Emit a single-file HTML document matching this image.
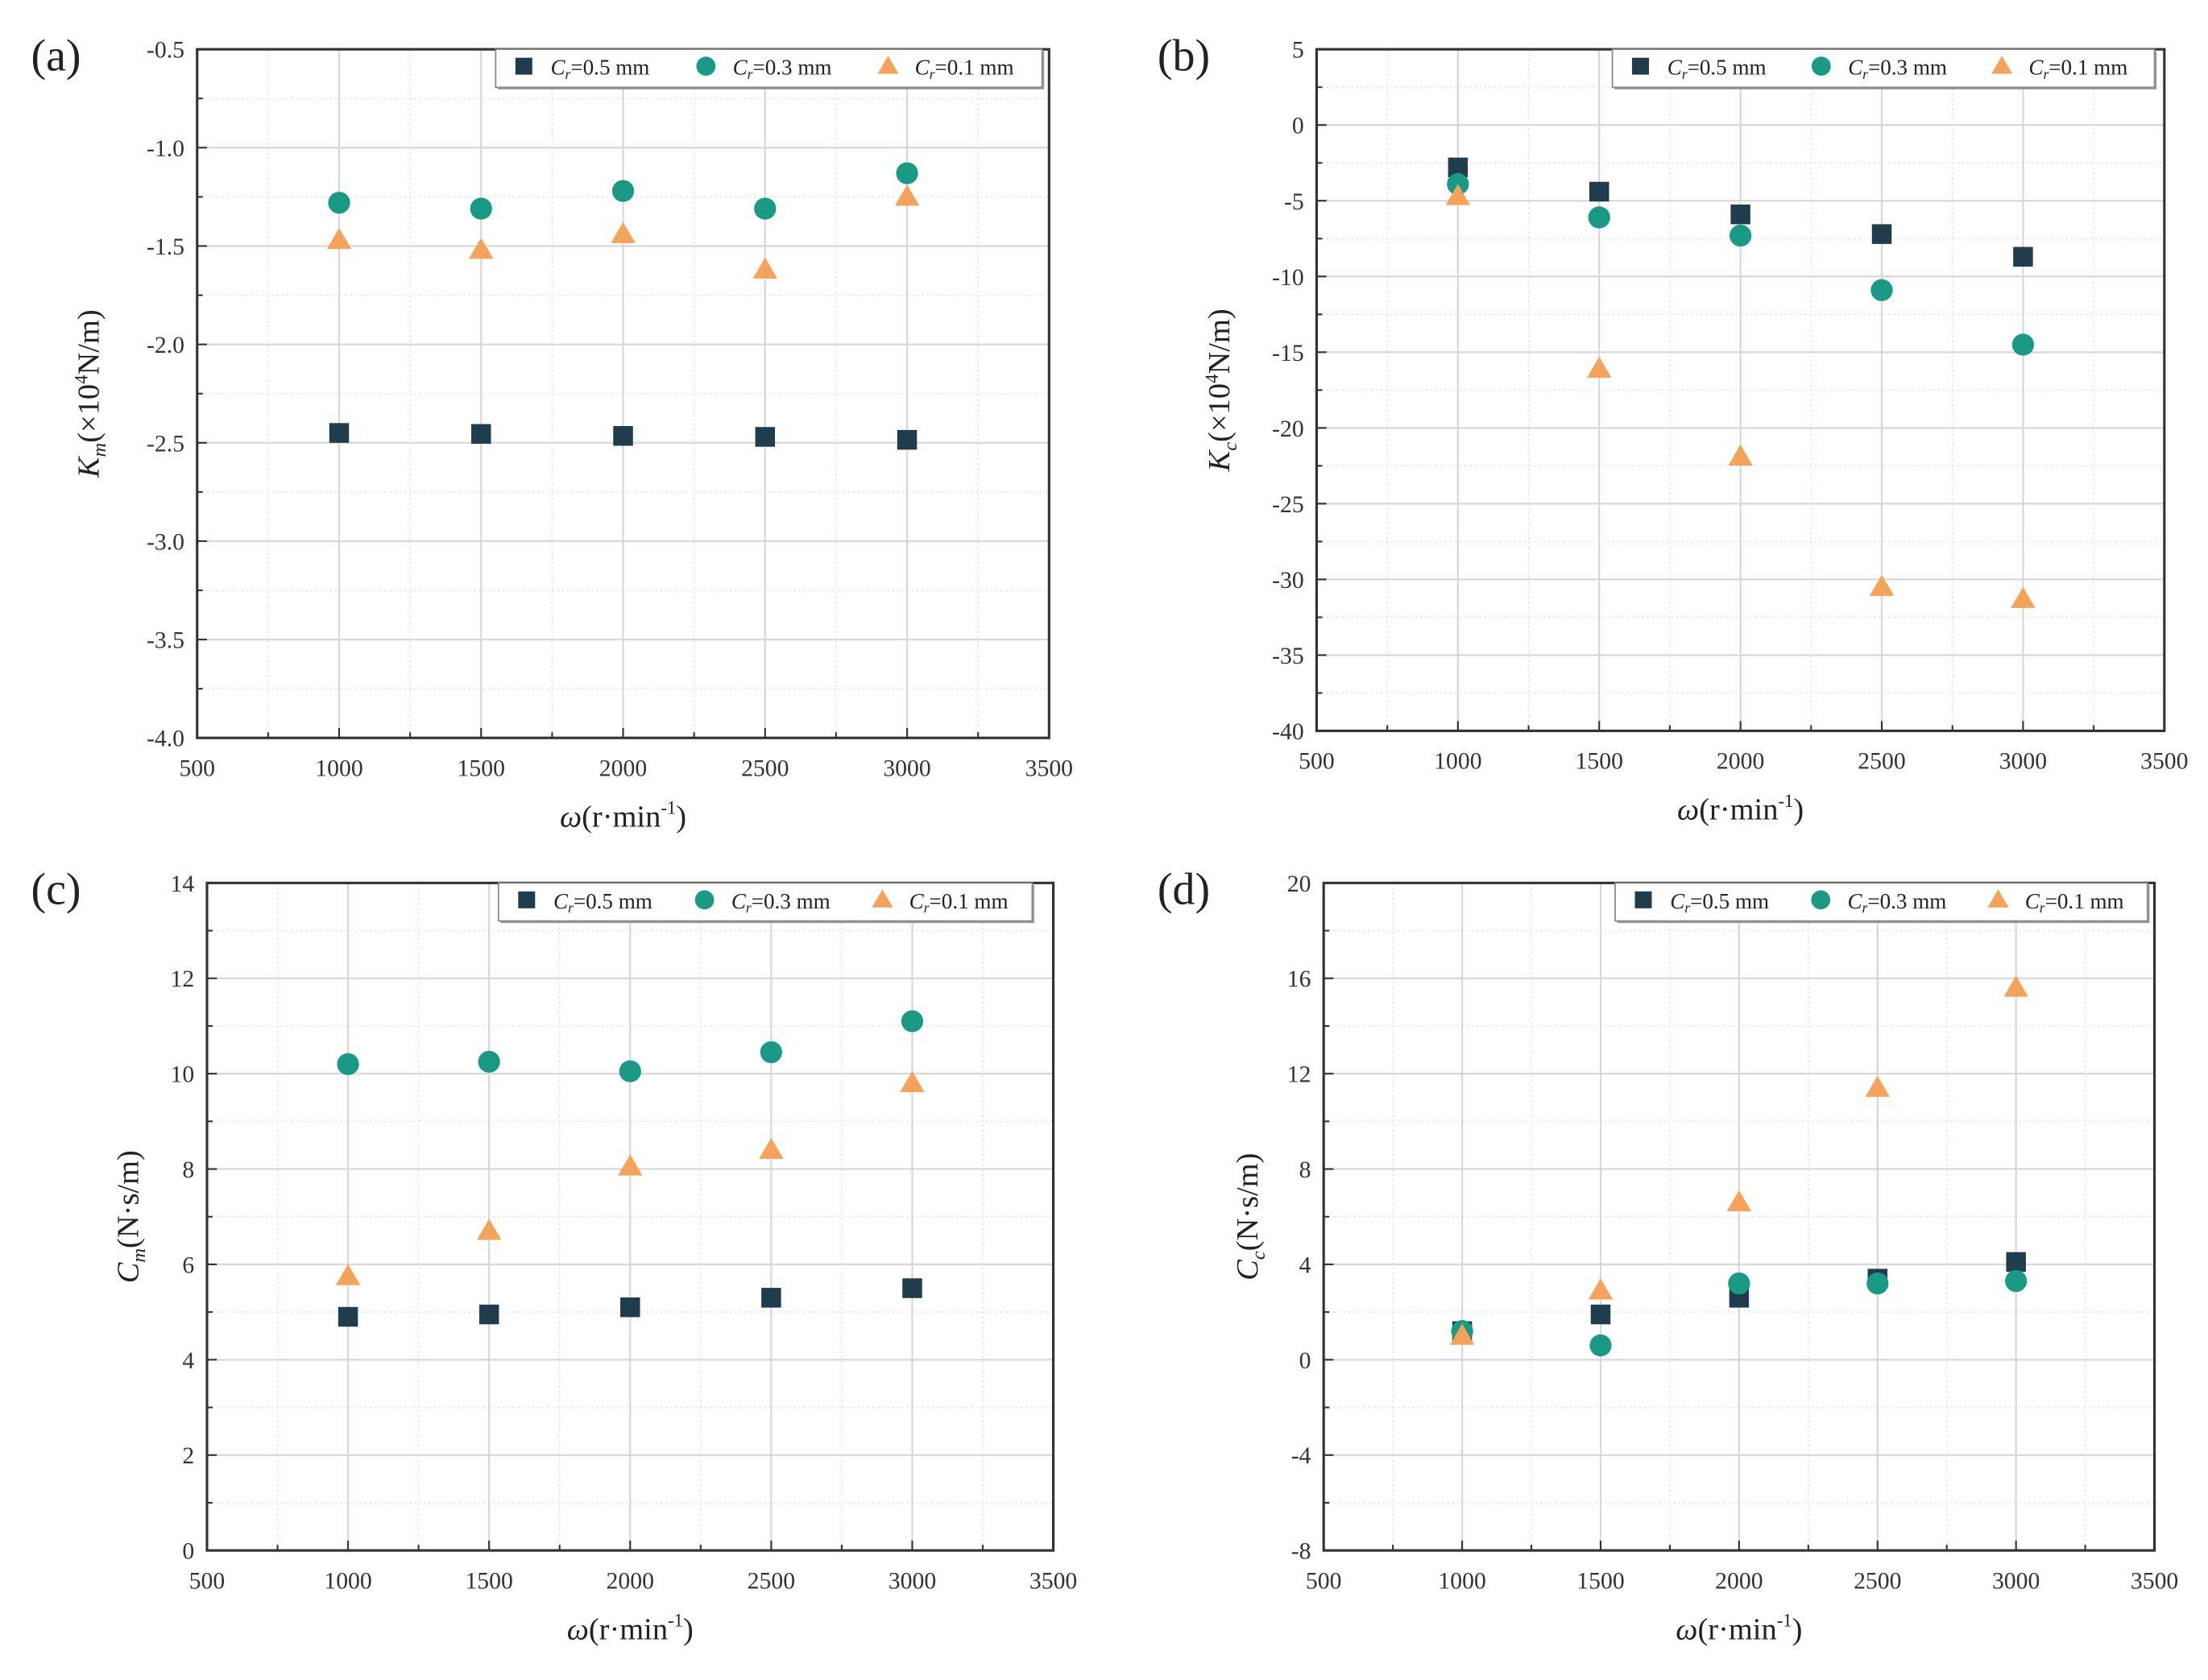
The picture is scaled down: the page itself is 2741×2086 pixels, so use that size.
<!DOCTYPE html>
<html><head><meta charset="utf-8"><style>
html,body{margin:0;padding:0;background:#fff;}
svg{display:block;}
text{font-family:"Liberation Serif",serif;}
</style></head><body>
<svg id="fig" width="2741" height="2086" viewBox="0 0 1568 1193" preserveAspectRatio="none" xmlns="http://www.w3.org/2000/svg"></svg>
<script>
const xCats = [1000, 1500, 2000, 2500, 3000];
const xTicks = [500, 1000, 1500, 2000, 2500, 3000, 3500];
// panel a
const aS05 = [-2.45, -2.455, -2.465, -2.47, -2.485];
const aS03 = [-1.28, -1.31, -1.22, -1.31, -1.13];
const aS01 = [-1.47, -1.52, -1.44, -1.62, -1.25];
const aYTicks = [-0.5, -1.0, -1.5, -2.0, -2.5, -3.0, -3.5, -4.0];
// panel b
const bS05 = [-2.8, -4.4, -5.9, -7.2, -8.7];
const bS03 = [-3.9, -6.1, -7.3, -10.9, -14.5];
const bS01 = [-4.7, -16.1, -21.9, -30.5, -31.3];
const bYTicks = [5, 0, -5, -10, -15, -20, -25, -30, -35, -40];
// panel c
const cS05 = [4.9, 4.95, 5.1, 5.3, 5.5];
const cS03 = [10.2, 10.25, 10.05, 10.45, 11.1];
const cS01 = [5.75, 6.7, 8.05, 8.4, 9.8];
const cYTicks = [0, 2, 4, 6, 8, 10, 12, 14];
// panel d
const dS05 = [1.2, 1.9, 2.6, 3.4, 4.1];
const dS03 = [1.2, 0.6, 3.2, 3.2, 3.3];
const dS01 = [1.0, 2.9, 6.6, 11.4, 15.6];
const dYTicks = [-8, -4, 0, 4, 8, 12, 16, 20];

const NS = "http://www.w3.org/2000/svg";
const svg = document.getElementById('fig');
function mk(tag, attrs, parent) {
  const e = document.createElementNS(NS, tag);
  for (const k in attrs) e.setAttribute(k, attrs[k]);
  (parent || svg).appendChild(e);
  return e;
}
const COL = {sq: '#1f3d4c', ci: '#1a9a84', tr: '#f5a35a'};
function marker(g, type, x, y, s) {
  let e;
  if (type === 'sq') e = mk('rect', {x: x - s/2, y: y - s/2, width: s, height: s, fill: COL.sq}, g);
  else if (type === 'ci') e = mk('circle', {cx: x, cy: y, r: s/2 + 0.8, fill: COL.ci}, g);
  else e = mk('polygon', {points: `${x},${y - s*0.62} ${x - s*0.62},${y + s*0.45} ${x + s*0.62},${y + s*0.45}`, fill: COL.tr}, g);
  return e;
}
function panel(p) {
  const g = mk('g', {});
  
  
  const ymin = Math.min(...p.yTicks), ymax = Math.max(...p.yTicks);
  const X = v => p.L + (v - 500) / 3000 * (p.R - p.L);
  const Y = v => p.B - (v - ymin) / (ymax - ymin) * (p.B - p.T);
  // minor grid
  const step = Math.abs(p.yTicks[1] - p.yTicks[0]);
  for (let v = ymin + step/2; v < ymax; v += step) {
    const l = mk('line', {x1: p.L, x2: p.R, y1: Y(v), y2: Y(v), stroke: '#e2e2e2', 'stroke-width': 0.8, 'stroke-dasharray': '1.5 2'}, g);
    mk('line', {x1: p.L, x2: p.L + 4, y1: Y(v), y2: Y(v), stroke: '#333', 'stroke-width': 1.2}, g);
  }
  for (let v = 750; v < 3500; v += 500) {
    mk('line', {x1: X(v), x2: X(v), y1: p.T, y2: p.B, stroke: '#e2e2e2', 'stroke-width': 0.8, 'stroke-dasharray': '1.5 2'}, g);
    mk('line', {x1: X(v), x2: X(v), y1: p.B, y2: p.B - 4, stroke: '#333', 'stroke-width': 1.2}, g);
  }
  // major grid
  p.yTicks.forEach(v => {
    const l = mk('line', {x1: p.L, x2: p.R, y1: Y(v), y2: Y(v), stroke: '#d8d8d8', 'stroke-width': 1.3}, g);
    
    
    mk('line', {x1: p.L, x2: p.L + 7, y1: Y(v), y2: Y(v), stroke: '#333', 'stroke-width': 1.2}, g);
    const t = mk('text', {x: p.L - 9, y: Y(v) + 6, 'text-anchor': 'end', 'font-size': 17, fill: '#333'}, g);
    t.textContent = p.fmt(v);
    
    
  });
  xTicks.forEach(v => {
    if (v > 500 && v < 3500) {
      mk('line', {x1: X(v), x2: X(v), y1: p.T, y2: p.B, stroke: '#d8d8d8', 'stroke-width': 1.3}, g);
      mk('line', {x1: X(v), x2: X(v), y1: p.B, y2: p.B - 7, stroke: '#333', 'stroke-width': 1.2}, g);
    }
    const t = mk('text', {x: X(v), y: p.B + 27, 'text-anchor': 'middle', 'font-size': 17, fill: '#333'}, g);
    t.textContent = v;
    
    
  });
  const frame = mk('rect', {x: p.L, y: p.T, width: p.R - p.L, height: p.B - p.T, fill: 'none', stroke: '#333', 'stroke-width': 1.8}, g);
  
  
  // series
  const ser = [['sq', p.s05, 'series-cr-0.5'], ['ci', p.s03, 'series-cr-0.3'], ['tr', p.s01, 'series-cr-0.1']];
  ser.forEach(([type, arr, nm]) => {
    arr.forEach((v, i) => {
      const m = marker(g, type, X(xCats[i]), Y(v), 14);
      
      
    });
  });
  // legend
  const lg = mk('g', {}, g);
  
  
  mk('rect', {x: p.lgX + 1.5, y: p.T + 1.5, width: p.lgW, height: 27, fill: '#999'}, lg);
  mk('rect', {x: p.lgX, y: p.T, width: p.lgW, height: 27, fill: '#fff', stroke: '#888', 'stroke-width': 1}, lg);
  const labels = ['0.5', '0.3', '0.1'];
  const w = p.lgW / 3;
  ['sq', 'ci', 'tr'].forEach((type, i) => {
    const x0 = p.lgX + 20 + i * w;
    marker(lg, type, x0, p.T + 12, 12);
    const t = mk('text', {x: x0 + 19, y: p.T + 18, 'font-size': 15.5, fill: '#222'}, lg);
    t.innerHTML = '<tspan font-style="italic">C</tspan><tspan font-style="italic" font-size="10" dy="3">r</tspan><tspan dy="-3">=' + labels[i] + ' mm</tspan>';
    
    
  });
  // titles
  const xt = mk('text', {x: (p.L + p.R) / 2, y: p.B + 63, 'text-anchor': 'middle', 'font-size': 22, fill: '#222'}, g);
  xt.innerHTML = '<tspan font-style="italic">ω</tspan>(r·min<tspan font-size="13" dy="-9">-1</tspan><tspan dy="9">)</tspan>';
  
  
  const cy = (p.T + p.B) / 2;
  const yt = mk('text', {x: 0, y: 0, 'text-anchor': 'middle', 'font-size': 22, fill: '#222', transform: `translate(${p.yTitleX},${cy}) rotate(-90)`}, g);
  yt.innerHTML = p.yTitle;
  
  
  const pl = mk('text', {x: p.labX, y: p.T + 15, 'font-size': 32, fill: '#222'}, g);
  pl.textContent = '(' + p.id + ')';
  
  
}
panel({id: 'a', L: 140, R: 745, T: 35, B: 524, yTicks: aYTicks, fmt: v => v.toFixed(1), s05: aS05, s03: aS03, s01: aS01, lgX: 352, lgW: 388, yTitleX: 70, labX: 22,
  yTitle: '<tspan font-style="italic">K</tspan><tspan font-style="italic" font-size="14" dy="5">m</tspan><tspan dy="-5">(×10</tspan><tspan font-size="13" dy="-8">4</tspan><tspan dy="8">N/m)</tspan>'});
panel({id: 'b', L: 935, R: 1537, T: 35, B: 519, yTicks: bYTicks, fmt: v => String(v), s05: bS05, s03: bS03, s01: bS01, lgX: 1145, lgW: 385, yTitleX: 873, labX: 822,
  yTitle: '<tspan font-style="italic">K</tspan><tspan font-style="italic" font-size="14" dy="5">c</tspan><tspan dy="-5">(×10</tspan><tspan font-size="13" dy="-8">4</tspan><tspan dy="8">N/m)</tspan>'});
panel({id: 'c', L: 147, R: 748, T: 627, B: 1101, yTicks: cYTicks, fmt: v => String(v), s05: cS05, s03: cS03, s01: cS01, lgX: 354, lgW: 379, yTitleX: 98, labX: 22,
  yTitle: '<tspan font-style="italic">C</tspan><tspan font-style="italic" font-size="14" dy="5">m</tspan><tspan dy="-5">(N·s/m)</tspan>'});
panel({id: 'd', L: 940, R: 1530, T: 627, B: 1101, yTicks: dYTicks, fmt: v => String(v), s05: dS05, s03: dS03, s01: dS01, lgX: 1147, lgW: 378, yTitleX: 893, labX: 822,
  yTitle: '<tspan font-style="italic">C</tspan><tspan font-style="italic" font-size="14" dy="5">c</tspan><tspan dy="-5">(N·s/m)</tspan>'});
</script>
</body></html>
